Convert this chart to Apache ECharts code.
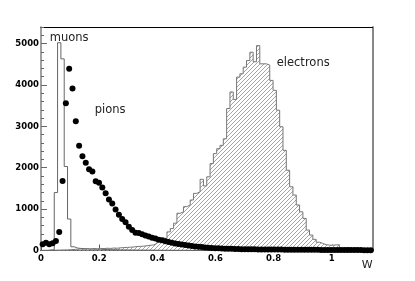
<!DOCTYPE html>
<html><head><meta charset="utf-8">
<script src="https://cdn.jsdelivr.net/npm/echarts@6/dist/echarts.min.js"></script>
<style>html,body{margin:0;padding:0;background:#fff}#c{width:415px;height:281px}</style>
</head><body><div id="c"></div>
<script>
// Histogram binning (W axis)
const xMin = 0, xMax = 1.14, nBins = 100;
const yMax = 5400;
const xLabels = [0, 0.2, 0.4, 0.6, 0.8, 1];
const yLabels = [0, 1000, 2000, 3000, 4000, 5000];

// muons: step histogram (counts per bin)
const muons = [
  5, 5, 10, 20, 1400, 5020, 4630, 2030, 760, 90,
  60, 50, 45, 40, 35, 35, 30, 30, 25, 25,
  20, 20, 20, 15, 15, 15, 12, 12, 10, 10,
  10, 8, 8, 8, 6, 6, 6, 5, 5, 5,
  4, 4, 4, 4, 3, 3, 3, 3, 3, 2,
  2, 2, 2, 2, 2, 2, 2, 1, 1, 1,
  1, 1, 1, 1, 1, 1, 1, 1, 1, 1,
  1, 1, 1, 0, 0, 0, 0, 0, 0, 0,
  0, 0, 0, 0, 0, 0, 0, 0, 0, 0,
  0, 0, 0, 0, 0, 0, 0, 0, 0, 0
];

// pions: points (counts per bin)
const pions = [
  150, 190, 150, 175, 230, 445, 1680, 3560, 4390, 3915,
  3120, 2530, 2280, 2120, 1965, 1910, 1675, 1635, 1520, 1385,
  1235, 1135, 990, 865, 760, 680, 575, 495, 430, 425,
  395, 365, 340, 310, 290, 262, 245, 222, 205, 186,
  172, 156, 144, 130, 118, 108, 98, 90, 82, 75,
  68, 62, 57, 52, 48, 45, 42, 40, 37, 35,
  33, 32, 30, 29, 28, 27, 26, 25, 24, 24,
  23, 22, 22, 21, 20, 20, 19, 19, 18, 18,
  17, 17, 16, 16, 15, 15, 14, 14, 13, 13,
  12, 12, 11, 11, 10, 10, 10, 9, 9, 8
];

// electrons: hatched step histogram (counts per bin)
const electrons = [
  0, 0, 5, 5, 10, 10, 15, 15, 20, 25,
  30, 35, 30, 40, 35, 45, 40, 50, 45, 55,
  50, 60, 55, 65, 70, 75, 80, 85, 95, 100,
  105, 115, 125, 135, 170, 290, 300, 290, 450, 530,
  660, 900, 935, 1060, 1100, 1220, 1380, 1420, 1720, 1560,
  1780, 2100, 2340, 2460, 2540, 2700, 3430, 3830, 3650, 4190,
  4270, 4430, 4590, 4790, 4560, 4950, 4510, 4510, 4480, 4110,
  3870, 3390, 2990, 2420, 1940, 1540, 1340, 1100, 935, 776,
  494, 373, 270, 200, 173, 140, 130, 125, 135, 140,
  55, 65, 70, 40, 60, 50, 20, 10, 5, 0
];

const binW = (xMax - xMin) / nBins;
function stepData(vals) {
  const d = [[xMin, 0]];
  vals.forEach((v, i) => d.push([xMin + i * binW, v]));
  d.push([xMax, vals[vals.length - 1]]);
  d.push([xMax, 0]);
  return d;
}
const pionPts = pions.map((v, i) => [xMin + (i + 0.5) * binW, v]);

function hatch() {
  const c = document.createElement('canvas');
  c.width = 4; c.height = 4;
  const g = c.getContext('2d');
  g.fillStyle = '#ffffff'; g.fillRect(0, 0, 4, 4);
  g.fillStyle = '#a4a4a4';
  for (let i = 0; i < 4; i++) g.fillRect(i, 3 - i, 1, 1);
  return c;
}

const labelFont = { fontFamily: 'DejaVu Sans', fontWeight: 'bold', fontSize: 8.5, color: '#000' };
const chart = echarts.init(document.getElementById('c'), null, { renderer: 'canvas' });
chart.setOption({
  animation: false,
  backgroundColor: '#fff',
  grid: { left: 41, right: 42.5, top: 27, bottom: 30.5 },
  xAxis: [
    { type: 'value', min: xMin, max: xMax, interval: 0.2, position: 'bottom',
      axisLine: { onZero: false, lineStyle: { color: '#000', width: 1 } },
      axisTick: { inside: true, length: 6, lineStyle: { color: '#555' } },
      splitLine: { show: false },
      axisLabel: Object.assign({ margin: 4, showMaxLabel: false,
        formatter: v => (xLabels.indexOf(Math.round(v * 10) / 10) >= 0 ? String(Math.round(v * 10) / 10) : '') }, labelFont) },
    { type: 'value', min: xMin, max: xMax, position: 'top',
      axisLine: { show: true, onZero: false, lineStyle: { color: '#000', width: 1 } },
      axisTick: { show: false }, axisLabel: { show: false }, splitLine: { show: false } }
  ],
  yAxis: [
    { type: 'value', min: 0, max: yMax, interval: 1000, position: 'left',
      axisLine: { show: true, onZero: false, lineStyle: { color: '#808080', width: 1.5 } },
      axisTick: { show: true, inside: true, length: 6, lineStyle: { color: '#666' } },
      splitLine: { show: false },
      axisLabel: Object.assign({ margin: 2, showMaxLabel: false,
        formatter: v => (yLabels.indexOf(v) >= 0 ? String(v) : '') }, labelFont) },
    { type: 'value', min: 0, max: yMax, position: 'right',
      axisLine: { show: true, onZero: false, lineStyle: { color: '#888', width: 2 } },
      axisTick: { show: false }, axisLabel: { show: false }, splitLine: { show: false } },
    { type: 'value', min: 0, max: yMax, interval: 200, position: 'left',
      axisLine: { show: false, onZero: false },
      axisTick: { show: true, inside: true, length: 3, lineStyle: { color: '#666' } },
      axisLabel: { show: false }, splitLine: { show: false } }
  ],
  series: [
    { type: 'line', name: 'electrons', step: 'end', data: stepData(electrons),
      symbol: 'none', lineStyle: { color: '#777', width: 1 },
      areaStyle: { color: { image: hatch(), repeat: 'repeat' }, opacity: 1 }, z: 2 },
    { type: 'line', name: 'muons', step: 'end', data: stepData(muons),
      symbol: 'none', lineStyle: { color: '#666', width: 1 }, z: 3 },
    { type: 'scatter', name: 'pions', data: pionPts, symbol: 'circle', symbolSize: 6,
      itemStyle: { color: '#000', opacity: 1 }, z: 4 }
  ],
  graphic: [
    { type: 'text', x: 49.7, y: 38, style: { text: 'muons', fontFamily: 'DejaVu Sans', fontSize: 11.5, fill: '#222', verticalAlign: 'middle' }, z: 10 },
    { type: 'text', x: 94.7, y: 110, style: { text: 'pions', fontFamily: 'DejaVu Sans', fontSize: 11.5, fill: '#222', verticalAlign: 'middle' }, z: 10 },
    { type: 'text', x: 276.7, y: 63, style: { text: 'electrons', fontFamily: 'DejaVu Sans', fontSize: 11.5, fill: '#222', verticalAlign: 'middle' }, z: 10 },
    { type: 'text', x: 367.2, y: 265.5, style: { text: 'W', fontFamily: 'DejaVu Sans', fontSize: 11, fill: '#222', align: 'center', verticalAlign: 'middle' }, z: 10 }
  ]
});
</script>
</body></html>
